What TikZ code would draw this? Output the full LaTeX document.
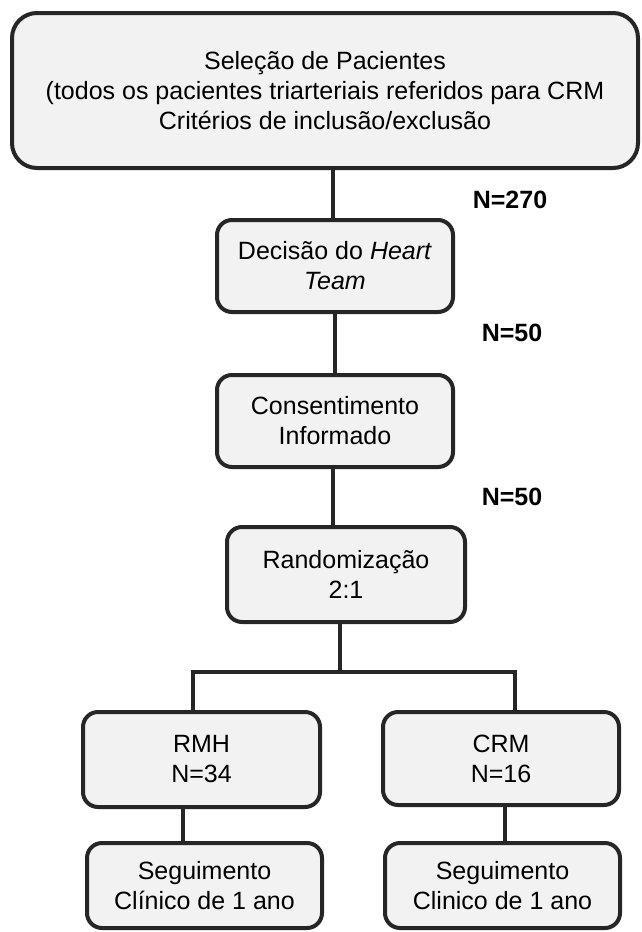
\documentclass[tikz,border=0pt]{standalone}
\usepackage{fontspec}
\setmainfont{Liberation Sans}
\usetikzlibrary{positioning}
\definecolor{boxline}{HTML}{262626}
\definecolor{boxfill}{HTML}{F2F2F2}
\begin{document}
\begin{tikzpicture}[x=1pt, y=-1pt, font=\fontsize{25}{30}\selectfont]
\tikzstyle{block} = [ rectangle, draw=boxline, fill=boxfill, line width=4pt, align=center, rounded corners=15pt, inner sep=0pt ]
\tikzstyle{count} = [ font=\fontsize{25}{30}\selectfont\bfseries ]
\tikzstyle{line} = [ draw=boxline, line width=4pt ]
\useasboundingbox (0,0) rectangle (641,932);
% place nodes
\node [block, rounded corners=25pt, minimum width=626pt, minimum height=155pt] (selecao) at (325,90.5) {Seleção de Pacientes\\(todos os pacientes triarteriais referidos para CRM\\Critérios de inclusão/exclusão} ;
\node [block, minimum width=236pt, minimum height=92pt] (decisao) at (335,266) {Decisão do \textit{Heart}\\\textit{Team}} ;
\node [block, minimum width=236pt, minimum height=92pt] (consent) at (335,421) {Consentimento\\Informado} ;
\node [block, minimum width=238pt, minimum height=95pt] (random) at (346,574.5) {Randomização\\2:1} ;
\node [block, minimum width=237pt, minimum height=95pt] (rmh) at (201.5,759.5) {RMH\\N=34} ;
\node [block, minimum width=236pt, minimum height=93pt] (crm) at (501,758.5) {CRM\\N=16} ;
\node [block, minimum width=235pt, minimum height=85pt] (seg-rmh) at (204.5,885.5) {Seguimento\\Clínico de 1 ano} ;
\node [block, minimum width=235pt, minimum height=85pt] (seg-crm) at (502.5,885.5) {Seguimento\\Clinico de 1 ano} ;
\node [count] (n-selecao) at (510,200) {N=270} ;
\node [count] (n-decisao) at (512,333) {N=50} ;
\node [count] (n-consent) at (512,497) {N=50} ;
\coordinate (split) at (340,672) ;
\coordinate (split-rmh) at (193,672) ;
\coordinate (split-crm) at (515,672) ;

% draw edges
\path [line] ([xshift=-2pt]decisao.north) -- ([xshift=-2pt]decisao.north |- selecao.south) ;
\path [line] (decisao) -- (consent) ;
\path [line] ([xshift=-2pt]consent.south) -- ([xshift=-2pt]consent.south |- random.north) ;
\path [line] (split |- random.south) -- (split) ;
\path [line] (split-rmh |- rmh.north) -- (split-rmh) -- (split-crm) -- (split-crm |- crm.north) ;
\path [line] ([xshift=-19pt]rmh.south) -- ([xshift=-19pt]rmh.south |- seg-rmh.north) ;
\path [line] ([xshift=4pt]crm.south) -- ([xshift=4pt]crm.south |- seg-crm.north) ;

\end{tikzpicture}
\end{document}
